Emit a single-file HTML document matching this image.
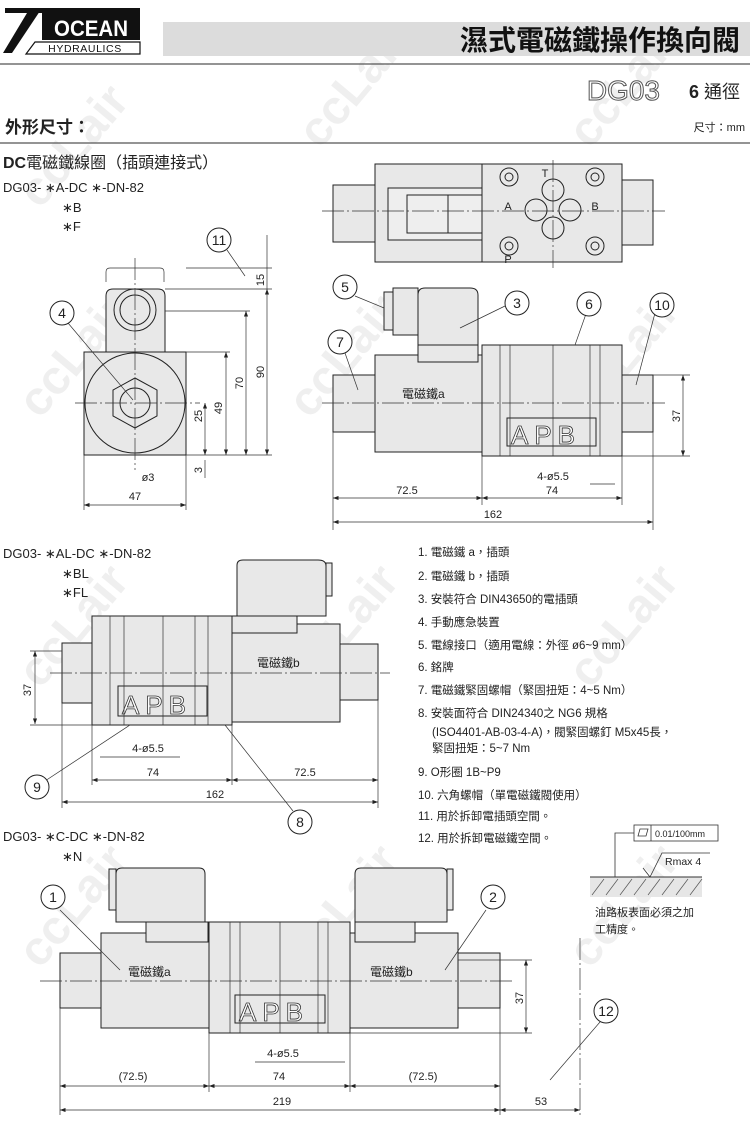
<!DOCTYPE html>
<html><head><meta charset="utf-8"><style>
html,body{margin:0;padding:0;background:#fff;}
svg{display:block;font-family:"Liberation Sans","Noto Sans CJK TC",sans-serif;}
</style></head><body>
<svg width="750" height="1122" viewBox="0 0 750 1122" xmlns="http://www.w3.org/2000/svg">
<defs>
<marker id="a" markerWidth="8" markerHeight="6" refX="8" refY="3" orient="auto-start-reverse"><path d="M0,0 L8,3 L0,6z" fill="#222"/></marker>
</defs>
<!-- watermarks -->
<g fill="#e8e8e8" font-size="48" font-weight="bold" opacity="0.7">
<text transform="translate(40,210) rotate(-50)">ccLair</text>
<text transform="translate(320,150) rotate(-50)">ccLair</text>
<text transform="translate(590,150) rotate(-50)">ccLair</text>
<text transform="translate(40,420) rotate(-50)">ccLair</text>
<text transform="translate(310,420) rotate(-50)">ccLair</text>
<text transform="translate(590,420) rotate(-50)">ccLair</text>
<text transform="translate(40,690) rotate(-50)">ccLair</text>
<text transform="translate(310,690) rotate(-50)">ccLair</text>
<text transform="translate(590,690) rotate(-50)">ccLair</text>
<text transform="translate(40,970) rotate(-50)">ccLair</text>
<text transform="translate(310,970) rotate(-50)">ccLair</text>
<text transform="translate(590,970) rotate(-50)">ccLair</text>
</g>
<!-- header -->
<rect x="5" y="8" width="135" height="5" fill="#111"/>
<rect x="42" y="8" width="98" height="32" fill="#111"/>
<polygon points="30,8 42,8 12,53 3,53" fill="#111"/>
<text x="91" y="36" font-size="22" font-weight="bold" fill="#fff" text-anchor="middle" textLength="74" lengthAdjust="spacingAndGlyphs">OCEAN</text>
<polygon points="35,42 140,42 140,54 26,54" fill="#fff" stroke="#111" stroke-width="1.2"/>
<text x="85" y="52" font-size="10.5" fill="#111" text-anchor="middle" letter-spacing="0.6">HYDRAULICS</text>
<rect x="163" y="22" width="587" height="34" fill="#dcdcdc"/>
<text x="740" y="50" font-size="28" font-weight="bold" text-anchor="end" fill="#111">濕式電磁鐵操作換向閥</text>
<line x1="0" y1="64" x2="750" y2="64" stroke="#555" stroke-width="1.2"/>
<text x="660" y="100" font-size="28" fill="#fff" stroke="#555" stroke-width="1" text-anchor="end">DG03</text>
<text x="740" y="98" font-size="18" text-anchor="end" fill="#222"><tspan font-weight="bold">6</tspan> 通徑</text>
<text x="5" y="133" font-size="17" font-weight="bold" fill="#222">外形尺寸：</text>
<text x="745" y="131" font-size="11" text-anchor="end" fill="#222">尺寸：mm</text>
<line x1="0" y1="143" x2="750" y2="143" stroke="#555" stroke-width="1.2"/>
<text x="3" y="168" font-size="16" font-weight="bold" fill="#222">DC<tspan font-weight="normal">電磁鐵線圈（插頭連接式）</tspan></text>
<g font-size="13" fill="#222">
<text x="3" y="192">DG03-  ∗A-DC ∗-DN-82</text>
<text x="62" y="212">∗B</text>
<text x="62" y="231">∗F</text>
<text x="3" y="558">DG03-  ∗AL-DC ∗-DN-82</text>
<text x="62" y="578">∗BL</text>
<text x="62" y="597">∗FL</text>
<text x="3" y="841">DG03-  ∗C-DC ∗-DN-82</text>
<text x="62" y="861">∗N</text>
</g>

<g stroke="#222" stroke-width="1" fill="#e8e8e8">
<!-- top view -->
<rect x="333" y="185" width="42" height="57"/>
<rect x="375" y="164" width="107" height="98"/>
<rect x="482" y="164" width="140" height="98"/>
<rect x="622" y="180" width="31" height="65"/>
<rect x="388" y="188" width="94" height="52" fill="#eee"/>
<rect x="407" y="195" width="75" height="38" fill="#eee"/>
<line x1="448" y1="195" x2="448" y2="233"/>
<g fill="none">
<circle cx="509" cy="177" r="9"/><circle cx="509" cy="177" r="4"/>
<circle cx="595" cy="177" r="9"/><circle cx="595" cy="177" r="4"/>
<circle cx="509" cy="246" r="9"/><circle cx="509" cy="246" r="4"/>
<circle cx="595" cy="246" r="9"/><circle cx="595" cy="246" r="4"/>
<circle cx="553" cy="190" r="11"/><circle cx="536" cy="210" r="11"/><circle cx="570" cy="210" r="11"/><circle cx="553" cy="228" r="11"/>
</g>
<!-- side view 1 -->
<rect x="333" y="375" width="42" height="57"/>
<rect x="375" y="355" width="107" height="97"/>
<rect x="482" y="345" width="140" height="111"/>
<rect x="622" y="375" width="31" height="57"/>
<rect x="418" y="345" width="60" height="17"/>
<path d="M418,345 V295 Q418,288 425,288 H470 Q478,288 478,295 V345 Z"/>
<rect x="384" y="292" width="9" height="38"/>
<rect x="393" y="288" width="25" height="47"/>
<rect x="507" y="418" width="89" height="28" fill="none"/>
<!-- front view -->
<path d="M106,352 V296 Q106,289 113,289 H158 Q165,289 165,296 V352 Z"/>
<rect x="84" y="352" width="102" height="103"/>
<circle cx="135" cy="403" r="50"/>
<polygon points="135,378 157,390 157,416 135,428 113,416 113,390"/>
<circle cx="135" cy="403" r="15" fill="none"/>
<circle cx="135" cy="310" r="21"/><circle cx="135" cy="310" r="15"/>
<!-- diagram 2 -->
<rect x="62" y="643" width="30" height="60"/>
<rect x="92" y="616" width="140" height="109"/>
<rect x="232" y="624" width="108" height="98"/>
<rect x="340" y="644" width="38" height="56"/>
<rect x="232" y="616" width="65" height="17"/>
<path d="M237,616 V565 Q237,560 243,560 H318 Q326,560 326,566 V616 Z"/>
<rect x="326" y="563" width="6" height="33"/>
<rect x="118" y="686" width="89" height="30" fill="none"/>
<!-- diagram 3 -->
<rect x="60" y="953" width="41" height="55"/>
<rect x="101" y="933" width="108" height="95"/>
<rect x="209" y="922" width="141" height="111"/>
<rect x="350" y="933" width="108" height="95"/>
<rect x="458" y="953" width="42" height="55"/>
<rect x="146" y="922" width="62" height="20"/>
<rect x="355" y="922" width="60" height="20"/>
<path d="M116,922 V874 Q116,868 122,868 H199 Q205,868 205,874 V922 Z"/>
<rect x="109" y="869" width="7" height="41"/>
<path d="M355,922 V874 Q355,868 361,868 H441 Q447,868 447,874 V922 Z"/>
<rect x="447" y="869" width="6" height="41"/>
<rect x="235" y="995" width="90" height="28" fill="none"/>
</g>
<!-- APB letters -->
<g font-size="26" fill="#fff" stroke="#333" stroke-width="0.8" letter-spacing="6">
<text x="511" y="444">APB</text>
<text x="122" y="714">APB</text>
<text x="239" y="1021">APB</text>
</g>
<!-- center lines -->
<g stroke="#333" stroke-width="0.7" stroke-dasharray="22,3,2,3">
<line x1="322" y1="211" x2="665" y2="211"/><line x1="553" y1="160" x2="553" y2="268"/>
<line x1="322" y1="403" x2="665" y2="403"/>
<line x1="75" y1="403" x2="200" y2="403"/><line x1="135" y1="258" x2="135" y2="470"/>
<line x1="50" y1="673" x2="390" y2="673"/>
<line x1="40" y1="981" x2="512" y2="981"/>
<line x1="580" y1="938" x2="580" y2="1115"/>
</g>
<!-- valve hidden lines -->
<g stroke="#333" stroke-width="0.7" fill="none">
<line x1="500" y1="345" x2="500" y2="456"/><line x1="510" y1="345" x2="510" y2="456"/>
<line x1="590" y1="345" x2="590" y2="456"/><line x1="600" y1="345" x2="600" y2="456"/>
<line x1="110" y1="616" x2="110" y2="725"/><line x1="124" y1="616" x2="124" y2="725"/>
<line x1="195" y1="616" x2="195" y2="725"/><line x1="208" y1="616" x2="208" y2="725"/>
<line x1="230" y1="922" x2="230" y2="1033"/><line x1="240" y1="922" x2="240" y2="1033"/>
<line x1="318" y1="922" x2="318" y2="1033"/><line x1="328" y1="922" x2="328" y2="1033"/>
<line x1="280" y1="922" x2="280" y2="1033"/><line x1="163" y1="616" x2="163" y2="725"/><line x1="553" y1="345" x2="553" y2="456"/>
</g>
<!-- dimensions -->
<g stroke="#333" stroke-width="0.7" fill="none">
<line x1="84" y1="455" x2="84" y2="510"/><line x1="186" y1="455" x2="186" y2="510"/>
<line x1="84" y1="505" x2="186" y2="505" marker-start="url(#a)" marker-end="url(#a)"/>
<line x1="267" y1="289" x2="267" y2="455" marker-start="url(#a)" marker-end="url(#a)"/>
<line x1="267" y1="235" x2="267" y2="289"/>
<line x1="246" y1="311" x2="246" y2="455" marker-start="url(#a)" marker-end="url(#a)"/>
<line x1="226" y1="352" x2="226" y2="455" marker-start="url(#a)" marker-end="url(#a)"/>
<line x1="205" y1="403" x2="205" y2="455" marker-start="url(#a)" marker-end="url(#a)"/>
<line x1="205" y1="460" x2="205" y2="478"/>
<line x1="165" y1="289" x2="272" y2="289"/><line x1="165" y1="311" x2="250" y2="311"/>
<line x1="186" y1="352" x2="230" y2="352"/><line x1="186" y1="455" x2="272" y2="455"/><line x1="186" y1="268" x2="272" y2="268"/>
<path d="M106,282 V272 Q106,268 110,268 H160 Q164,268 164,272 V282"/>
<line x1="333" y1="432" x2="333" y2="530"/><line x1="482" y1="456" x2="482" y2="505"/><line x1="622" y1="456" x2="622" y2="505"/><line x1="653" y1="432" x2="653" y2="530"/>
<line x1="333" y1="498" x2="482" y2="498" marker-start="url(#a)" marker-end="url(#a)"/>
<line x1="482" y1="498" x2="622" y2="498" marker-start="url(#a)" marker-end="url(#a)"/>
<line x1="333" y1="522" x2="653" y2="522" marker-start="url(#a)" marker-end="url(#a)"/>
<line x1="683" y1="375" x2="683" y2="456" marker-start="url(#a)" marker-end="url(#a)"/>
<line x1="622" y1="456" x2="690" y2="456"/><line x1="653" y1="375" x2="690" y2="375"/>
<line x1="590" y1="484" x2="615" y2="484"/>
<line x1="35" y1="651" x2="35" y2="724" marker-start="url(#a)" marker-end="url(#a)"/>
<line x1="30" y1="651" x2="62" y2="651"/><line x1="30" y1="725" x2="92" y2="725"/>
<line x1="62" y1="703" x2="62" y2="808"/><line x1="92" y1="725" x2="92" y2="785"/><line x1="232" y1="725" x2="232" y2="785"/><line x1="378" y1="700" x2="378" y2="808"/>
<line x1="92" y1="780" x2="232" y2="780" marker-start="url(#a)" marker-end="url(#a)"/>
<line x1="232" y1="780" x2="378" y2="780" marker-start="url(#a)" marker-end="url(#a)"/>
<line x1="62" y1="802" x2="378" y2="802" marker-start="url(#a)" marker-end="url(#a)"/>
<line x1="100" y1="757" x2="180" y2="757"/>
<line x1="60" y1="1008" x2="60" y2="1115"/><line x1="209" y1="1033" x2="209" y2="1092"/><line x1="350" y1="1033" x2="350" y2="1092"/><line x1="500" y1="1008" x2="500" y2="1115"/>
<line x1="60" y1="1086" x2="209" y2="1086" marker-start="url(#a)" marker-end="url(#a)"/>
<line x1="209" y1="1086" x2="350" y2="1086" marker-start="url(#a)" marker-end="url(#a)"/>
<line x1="350" y1="1086" x2="500" y2="1086" marker-start="url(#a)" marker-end="url(#a)"/>
<line x1="60" y1="1110" x2="500" y2="1110" marker-start="url(#a)" marker-end="url(#a)"/>
<line x1="500" y1="1110" x2="580" y2="1110" marker-start="url(#a)" marker-end="url(#a)"/>
<line x1="526" y1="960" x2="526" y2="1033" marker-start="url(#a)" marker-end="url(#a)"/>
<line x1="458" y1="960" x2="532" y2="960"/><line x1="350" y1="1033" x2="532" y2="1033"/>
<line x1="255" y1="1062" x2="345" y2="1062"/>
<!-- leaders -->
<line x1="227" y1="250" x2="245" y2="276"/>
<line x1="68" y1="323" x2="133" y2="400"/>
<line x1="355" y1="296" x2="384" y2="308"/>
<line x1="505" y1="306" x2="460" y2="328"/>
<line x1="587" y1="311" x2="575" y2="345"/>
<line x1="655" y1="313" x2="636" y2="385"/>
<line x1="345" y1="353" x2="358" y2="390"/>
<line x1="45" y1="781" x2="130" y2="725"/>
<line x1="293" y1="811" x2="225" y2="725"/>
<line x1="60" y1="910" x2="120" y2="970"/>
<line x1="486" y1="910" x2="445" y2="970"/>
<line x1="600" y1="1022" x2="550" y2="1080"/>
</g>
<!-- balloons -->
<g fill="#fff" stroke="#222" stroke-width="1">
<circle cx="219" cy="240" r="12"/><circle cx="62" cy="313" r="12"/>
<circle cx="345" cy="287" r="12"/><circle cx="517" cy="303" r="12"/><circle cx="589" cy="304" r="12"/><circle cx="662" cy="305" r="12"/><circle cx="340" cy="342" r="12"/>
<circle cx="37" cy="787" r="12"/><circle cx="300" cy="822" r="12"/>
<circle cx="53" cy="897" r="12"/><circle cx="493" cy="897" r="12"/><circle cx="606" cy="1011" r="12"/>
</g>
<g font-size="14" fill="#222" text-anchor="middle">
<text x="219" y="245">11</text><text x="62" y="318">4</text>
<text x="345" y="292">5</text><text x="517" y="308">3</text><text x="589" y="309">6</text><text x="662" y="310">10</text><text x="340" y="347">7</text>
<text x="37" y="792">9</text><text x="300" y="827">8</text>
<text x="53" y="902">1</text><text x="493" y="902">2</text><text x="606" y="1016">12</text>
</g>
<!-- dim labels -->
<g font-size="11" fill="#222" text-anchor="middle">
<text x="135" y="500">47</text>
<text x="148" y="481">ø3</text>
<text transform="translate(264,280) rotate(-90)">15</text>
<text transform="translate(264,372) rotate(-90)">90</text>
<text transform="translate(243,383) rotate(-90)">70</text>
<text transform="translate(222,408) rotate(-90)">49</text>
<text transform="translate(202,416) rotate(-90)">25</text>
<text transform="translate(202,470) rotate(-90)">3</text>
<text x="407" y="494">72.5</text><text x="552" y="494">74</text><text x="493" y="518">162</text>
<text x="553" y="480">4-ø5.5</text>
<text transform="translate(680,416) rotate(-90)">37</text>
<text x="508" y="263">P</text><text x="545" y="177">T</text><text x="508" y="210">A</text><text x="595" y="210">B</text>
<text transform="translate(31,690) rotate(-90)">37</text>
<text x="148" y="752">4-ø5.5</text><text x="153" y="776">74</text><text x="305" y="776">72.5</text><text x="215" y="798">162</text>
<text transform="translate(523,998) rotate(-90)">37</text>
<text x="283" y="1057">4-ø5.5</text>
<text x="133" y="1080">(72.5)</text><text x="279" y="1080">74</text><text x="423" y="1080">(72.5)</text>
<text x="282" y="1105">219</text><text x="541" y="1105">53</text>
</g>
<g font-size="12" fill="#222">
<text x="402" y="398">電磁鐵a</text>
<text x="257" y="667">電磁鐵b</text>
<text x="128" y="976">電磁鐵a</text>
<text x="370" y="976">電磁鐵b</text>
</g>
<!-- notes -->
<g font-size="11.5" fill="#222">
<text x="418" y="556">1. 電磁鐵 a，插頭</text>
<text x="418" y="580">2. 電磁鐵 b，插頭</text>
<text x="418" y="603">3. 安裝符合 DIN43650的電插頭</text>
<text x="418" y="626">4. 手動應急裝置</text>
<text x="418" y="649">5. 電線接口（適用電線：外徑 ø6~9 mm）</text>
<text x="418" y="671">6. 銘牌</text>
<text x="418" y="694">7. 電磁鐵緊固螺帽（緊固扭矩：4~5 Nm）</text>
<text x="418" y="717">8. 安裝面符合 DIN24340之 NG6 規格</text>
<text x="432" y="736">(ISO4401-AB-03-4-A)，閥緊固螺釘 M5x45長，</text>
<text x="432" y="752">緊固扭矩：5~7 Nm</text>
<text x="418" y="776">9. O形圈 1B~P9</text>
<text x="418" y="799">10. 六角螺帽（單電磁鐵閥使用）</text>
<text x="418" y="820">11. 用於拆卸電插頭空間。</text>
<text x="418" y="842">12. 用於拆卸電磁鐵空間。</text>
</g>
<!-- surface symbol -->
<g stroke="#333" stroke-width="0.8" fill="none">
<rect x="634" y="825" width="84" height="16" fill="#fff"/><line x1="651" y1="825" x2="651" y2="841"/>
<polygon points="638,836 640,829 648,829 646,836"/>
<polyline points="634,833 615,833 615,877"/>
<polyline points="710,853 662,853 650,877 643,868"/>
</g>
<rect x="590" y="877" width="112" height="20" fill="#e6e6e6"/>
<line x1="590" y1="877" x2="702" y2="877" stroke="#333"/>
<g stroke="#555" stroke-width="0.7">
<line x1="592" y1="895" x2="604" y2="879"/><line x1="606" y1="895" x2="618" y2="879"/><line x1="620" y1="895" x2="632" y2="879"/><line x1="634" y1="895" x2="646" y2="879"/><line x1="648" y1="895" x2="660" y2="879"/><line x1="662" y1="895" x2="674" y2="879"/><line x1="676" y1="895" x2="688" y2="879"/><line x1="690" y1="895" x2="702" y2="879"/>
</g>
<text x="655" y="837" font-size="9" fill="#222">0.01/100mm</text>
<text x="665" y="865" font-size="10.5" fill="#222">Rmax 4</text>
<text x="595" y="916" font-size="11" fill="#222">油路板表面必須之加</text>
<text x="595" y="933" font-size="11" fill="#222">工精度。</text>
</svg>
</body></html>
